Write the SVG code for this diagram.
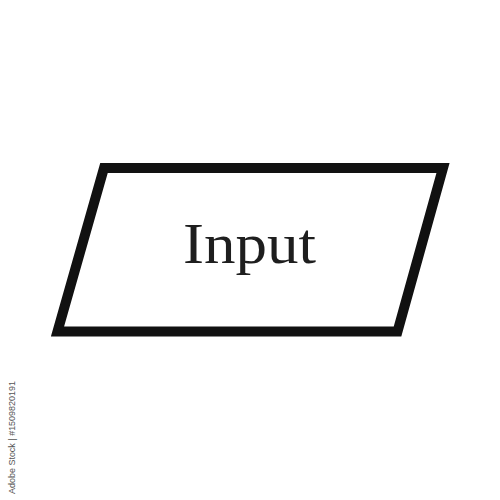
<svg xmlns="http://www.w3.org/2000/svg" width="500" height="500" viewBox="0 0 500 500">
<style>
.shape{fill:#fff;stroke:#111;stroke-width:10;stroke-linejoin:miter}
.lbl{font-family:"Liberation Serif","Times New Roman",serif;font-size:56px;fill:#1e1e1e}
.id{font-family:"Liberation Sans",Arial,sans-serif;font-size:9px;fill:#555}
</style>
<rect width="500" height="500" fill="#fff"/>
<g id="input-node">
<polygon class="shape" points="104,168 443,168 397.5,331.5 57.5,331.5"/>
<text class="lbl" x="249.5" y="262.5" text-anchor="middle" textLength="133" lengthAdjust="spacingAndGlyphs">Input</text>
</g>
<g id="connectors"></g>
<text class="id" transform="translate(15,494) rotate(-90)" textLength="113" lengthAdjust="spacingAndGlyphs">Adobe Stock | #1509820191</text>
</svg>
